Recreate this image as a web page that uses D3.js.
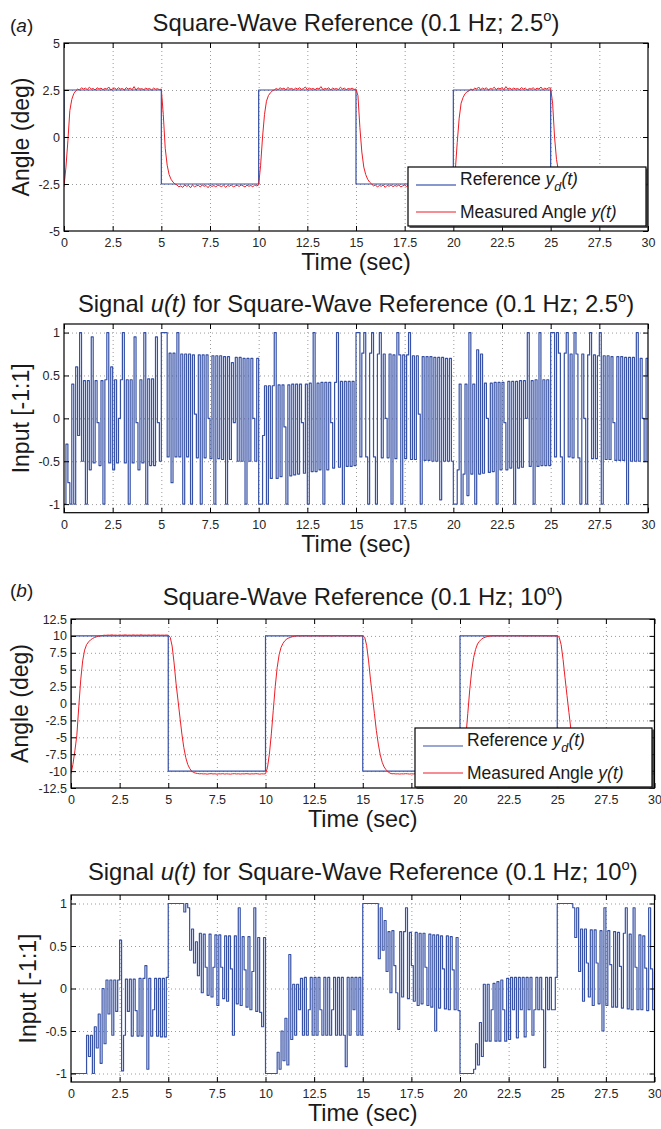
<!DOCTYPE html>
<html><head><meta charset="utf-8">
<script src="https://cdn.jsdelivr.net/npm/d3@7"></script>
<style>
body{margin:0;background:#fff}
svg{display:block}
text{font-family:"Liberation Sans",Arial,Helvetica,sans-serif}
</style>
</head><body>
<svg id="c" width="661" height="1129"></svg>
<script>
// ---------------- DATA ----------------
const timeTicks = [0,2.5,5,7.5,10,12.5,15,17.5,20,22.5,25,27.5,30];
const timeTickLabels = ["0","2.5","5","7.5","10","12.5","15","17.5","20","22.5","25","27.5","30"];
const angleTicksA = [-5,-2.5,0,2.5,5];
const angleTickLabelsA = ["-5","-2.5","0","2.5","5"];
const angleTicksB = [-12.5,-10,-7.5,-5,-2.5,0,2.5,5,7.5,10,12.5];
const angleTickLabelsB = ["-12.5","-10","-7.5","-5","-2.5","0","2.5","5","7.5","10","12.5"];
const inputTicks = [-1,-0.5,0,0.5,1];
const inputTickLabels = ["-1","-0.5","0","0.5","1"];

// square-wave reference (step changes)
const refTimes   = [0,0,5,10,15,20,25,30];
const refLevelsA = [-2.5,2.5,-2.5,2.5,-2.5,2.5,-2.5,2.5];
const refLevelsB = [-10,10,-10,10,-10,10,-10,10];

// sampled signals, one value every 0.1 s from t = 0 to 30 s
const sampleStep = 0.1;
const measuredA = [
-2.65,-1.6,-0.2,1.4,2.0,2.3,2.45,2.55,2.5,2.62,
2.55,2.6,2.52,2.65,2.55,2.58,2.5,2.62,2.55,2.6,
2.52,2.58,2.55,2.66,2.5,2.57,2.6,2.53,2.62,2.55,
2.58,2.5,2.63,2.55,2.6,2.52,2.68,2.5,2.62,2.55,
2.57,2.52,2.6,2.55,2.58,2.5,2.6,2.54,2.57,2.52,
2.55,1.2,-0.6,-1.5,-2.0,-2.25,-2.4,-2.5,-2.55,-2.65,
-2.6,-2.68,-2.55,-2.62,-2.58,-2.7,-2.55,-2.65,-2.6,-2.57,
-2.66,-2.55,-2.62,-2.58,-2.7,-2.56,-2.63,-2.58,-2.66,-2.55,
-2.6,-2.64,-2.55,-2.68,-2.58,-2.62,-2.55,-2.66,-2.6,-2.57,
-2.63,-2.55,-2.6,-2.66,-2.56,-2.62,-2.58,-2.65,-2.55,-2.6,
-2.55,-1.5,0.0,1.2,1.9,2.2,2.35,2.45,2.5,2.58,
2.52,2.62,2.55,2.6,2.5,2.64,2.55,2.58,2.52,2.6,
2.55,2.62,2.53,2.58,2.66,2.52,2.6,2.55,2.58,2.52,
2.6,2.55,2.68,2.52,2.58,2.55,2.62,2.5,2.6,2.55,
2.58,2.52,2.65,2.55,2.6,2.52,2.58,2.55,2.6,2.53,
2.55,2.2,0.5,-0.8,-1.6,-2.0,-2.25,-2.4,-2.5,-2.6,
-2.55,-2.66,-2.58,-2.62,-2.55,-2.68,-2.57,-2.62,-2.55,-2.64,
-2.58,-2.62,-2.55,-2.66,-2.6,-2.56,-2.63,-2.55,-2.6,-2.57,
-2.62,-2.55,-2.6,-2.58,-2.65,-2.55,-2.62,-2.57,-2.6,-2.55,
-2.6,-2.56,-2.62,-2.55,-2.6,-2.58,-2.55,-2.62,-2.57,-2.6,
-2.55,-1.8,-0.3,1.0,1.8,2.1,2.3,2.4,2.45,2.55,
2.5,2.6,2.55,2.66,2.52,2.6,2.55,2.62,2.5,2.58,
2.55,2.65,2.52,2.6,2.56,2.62,2.52,2.68,2.55,2.6,
2.53,2.6,2.55,2.58,2.52,2.63,2.55,2.6,2.5,2.58,
2.55,2.62,2.52,2.6,2.55,2.66,2.52,2.6,2.55,2.62,
2.6,1.8,0.0,-1.2,-1.8,-2.15,-2.35,-2.45,-2.55,-2.6,
-2.62,-2.55,-2.6,-2.58,-2.62,-2.56,-2.6,-2.55,-2.62,-2.58,
-2.6,-2.55,-2.62,-2.57,-2.6,-2.55,-2.6,-2.58,-2.62,-2.55,
-2.6,-2.57,-2.62,-2.55,-2.6,-2.58,-2.55,-2.62,-2.58,-2.6,
-2.55,-2.62,-2.58,-2.6,-2.55,-2.62,-2.58,-2.6,-2.55,-2.58,
-2.55];

const inputA = [
-1,-0.3,-0.75,-1,0.4,-1,0.6,-0.2,1,-0.5,
0.44,-1,0.44,-0.6,0.95,-0.52,0.44,-0.05,-0.55,0.44,
-1,0.45,1,-0.52,0.6,-0.6,0.45,-0.52,0,0.45,
1,-0.52,0.45,-1,0.45,-0.52,0.95,-0.05,-0.6,0.45,
-0.52,1,-1,0.46,-0.55,0.46,-0.55,0.95,-0.05,-0.5,
1,1,1,-0.45,0.76,-0.75,0.76,-0.45,1,-0.45,
0.75,-1,0.75,-0.45,0.75,-1,0.74,0.05,-0.46,0.74,
-1,0.74,-0.46,0.74,0,-0.47,0.73,-1,0.73,-0.47,
0.73,-0.48,0.72,-1,0.72,-0.48,0.65,-0.05,0.71,-0.5,
0.71,-0.5,0.7,-1,0.7,-0.5,0.7,0,-0.5,0.7,
-1,-1,-0.2,0.38,-1,0.38,-0.7,0.38,1,-0.7,
0.39,-0.68,0.39,-0.1,-1,0.39,-0.67,0.4,-0.66,0.4,
-0.65,0.4,-0.05,-0.64,0.4,-1,0.41,-0.62,1,-0.62,
0.41,-0.6,0.42,-1,0.42,-0.6,0.42,-0.05,-0.58,0.42,
1,-0.57,0.43,-1,0.43,-0.56,0.43,-0.56,0.43,-0.55,
1,1,-0.45,0.76,1,-0.45,-1,0.76,1,-0.45,
-1,0.75,1,-0.46,0.75,0,-0.46,0.75,-1,0.74,
-0.47,1,0.74,-1,0.74,-0.47,0.74,1,-0.48,0.73,
-0.48,0.73,0.05,-1,0.72,-0.49,0.72,-0.49,0.72,-0.5,
0.71,-0.5,0.71,-0.95,0.71,-0.5,0.7,-0.5,0.7,-0.5,
-1,-1,-0.6,0.4,-1,-0.65,0.4,-0.9,1,-0.65,
0.4,-1,0.8,-0.65,0.75,-0.64,0.41,0,-0.63,0.41,
-0.62,0.42,-1,0.42,-0.6,0.42,-0.05,-0.6,0.43,-0.58,
0.43,-1,0.43,-0.58,0.44,-0.57,0.44,0,1,-0.56,
0.44,-1,0.45,-0.56,1,-0.55,0.45,-0.55,0.45,-0.55,
1,1,-0.45,1,0.76,-0.45,-1,0.76,1,-0.45,
0.75,-0.46,1,0.75,-0.46,-1,0.75,0,-1,0.74,
1,-0.47,0.74,-0.47,0.73,1,-1,0.73,-0.48,0.73,
-0.48,0.72,-0.05,-0.49,0.72,-0.49,0.72,-0.49,0.71,-1,
0.71,-0.5,0.71,-0.5,1,-0.5,0.7,0,-0.5,0.7,
0.5];

const measuredB = [
-10.4,-9,-7,-4.7,-0.5,3.5,6.3,7.9,8.7,9.1,
9.4,9.6,9.75,9.85,9.95,10.0,10.05,10.1,10.08,10.12,
10.1,10.15,10.1,10.12,10.08,10.14,10.1,10.12,10.15,10.1,
10.12,10.1,10.15,10.1,10.13,10.1,10.16,10.1,10.12,10.1,
10.14,10.1,10.12,10.15,10.1,10.13,10.1,10.12,10.1,10.13,
10.1,9.8,8.5,6,3,0.5,-2,-4.5,-6.5,-8,
-9,-9.6,-10,-10.2,-10.3,-10.35,-10.4,-10.38,-10.42,-10.4,
-10.45,-10.4,-10.38,-10.42,-10.4,-10.45,-10.4,-10.42,-10.38,-10.44,
-10.4,-10.42,-10.45,-10.4,-10.38,-10.42,-10.4,-10.44,-10.4,-10.42,
-10.38,-10.4,-10.44,-10.4,-10.42,-10.38,-10.4,-10.45,-10.4,-10.42,
-10.4,-9.5,-7.5,-4.5,-1,2.5,5.3,7.2,8.3,8.9,
9.3,9.55,9.7,9.8,9.9,9.95,10.0,10.02,9.98,10.02,
10.0,10.03,10.0,9.98,10.02,10.0,10.03,10.0,10.02,9.98,
10.02,10.0,10.03,10.0,9.98,10.02,10.0,10.04,10.0,10.02,
10.0,10.02,9.98,10.02,10.0,10.03,10.0,10.02,10.0,10.02,
10.0,9.8,8.6,6.3,3.5,1,-1.5,-4,-6,-7.6,
-8.7,-9.4,-9.8,-10.1,-10.3,-10.4,-10.38,-10.42,-10.4,-10.44,
-10.4,-10.42,-10.38,-10.4,-10.44,-10.4,-10.42,-10.4,-10.38,-10.42,
-10.4,-10.44,-10.4,-10.42,-10.38,-10.4,-10.42,-10.4,-10.44,-10.4,
-10.42,-10.38,-10.4,-10.42,-10.4,-10.44,-10.4,-10.42,-10.38,-10.4,
-10.4,-9.6,-7.8,-5,-1.5,2,4.8,6.8,8,8.8,
9.2,9.5,9.7,9.8,9.9,9.95,10.0,10.02,10.0,10.03,
10.0,10.02,10.0,10.03,9.98,10.02,10.0,10.03,10.0,10.02,
10.0,10.03,10.0,10.02,9.98,10.02,10.0,10.03,10.0,10.02,
10.0,10.02,10.0,10.03,10.0,10.02,9.98,10.02,10.0,10.02,
10.0,9.8,8.7,6.5,3.8,1.2,-1.3,-3.8,-6,-7.6,
-8.7,-9.4,-9.8,-10.1,-10.3,-10.4,-10.4,-10.42,-10.4,-10.4,
-10.42,-10.4,-10.4,-10.42,-10.4,-10.4,-10.42,-10.4,-10.4,-10.42,
-10.4,-10.42,-10.4,-10.4,-10.42,-10.4,-10.4,-10.42,-10.4,-10.4,
-10.42,-10.4,-10.4,-10.42,-10.4,-10.4,-10.42,-10.4,-10.4,-10.42,
-10.4];

const inputB = [
-1,-1,-1,-1,-1,-1,-1,-1,-0.55,-0.8,
-0.55,-1,-0.45,-0.7,-0.3,-0.88,0,-0.65,0.1,-0.3,
0.1,-0.55,0.1,-0.27,0.1,0.57,-0.97,-0.55,0.11,-0.27,
0.11,-0.56,0.11,-0.26,-0.56,0.12,-0.56,0.12,0.27,-0.95,
0.12,-0.56,-0.25,0.12,-0.56,0.12,-0.57,0.12,-0.57,0.13,
1,1,1,1,1,1,1,1,0.9,1,
0.95,0.45,0.7,0.3,0.55,0.15,0.65,-0.05,0.64,0.25,
-0.08,0.64,-0.1,0.25,0.63,-0.2,0.63,0.25,-0.12,0.62,
-0.15,0.62,0.23,-0.55,0.62,-0.18,0.95,-0.2,0.61,0.22,
-0.22,0.61,-0.25,0.2,0.95,-0.27,0.6,-0.28,-0.45,0.6,
-1,-1,-1,-1,-1,-1,-0.75,-0.95,-0.5,-0.85,
-0.35,-0.9,0.4,-0.6,0.05,-0.55,0.05,-0.25,0.12,-0.55,
0.13,-0.55,-0.25,0.13,-0.55,0.13,-0.55,0.13,-0.25,-0.55,
0.13,-0.55,0.13,-0.55,-0.25,0.13,-0.55,0.13,-0.55,0.13,
-0.55,-0.92,0.13,-0.55,0.13,-0.25,0.13,-0.55,0.13,-0.55,
1,1,1,1,1,1,1,1,0.35,0.95,
0.45,0.8,0.2,0.67,-0.05,0.68,0.27,-0.05,-0.48,0.67,
-0.1,0.67,0.95,-0.12,0.66,0.27,-0.15,0.66,-0.2,0.65,
-0.18,0.65,0.25,-0.2,0.64,-0.22,0.63,-0.5,0.63,-0.23,
0.62,0.23,-0.24,0.62,-0.25,0.61,0.22,-0.25,0.6,-0.26,
-1,-1,-1,-1,-1,-1,-1,-0.95,-0.65,-0.9,
-0.4,-0.8,0.05,-0.62,0.05,-0.62,-0.25,0.06,-0.62,0.08,
-0.62,0.1,-0.25,-0.62,0.12,-0.6,0.13,-0.25,0.13,-0.58,
0.13,-0.25,0.13,-0.57,0.13,-0.25,0.13,-0.55,-0.25,0.13,
-0.25,0.13,-0.25,-0.93,0.13,-0.25,0.13,-0.25,-0.25,0.13,
1,1,1,1,1,1,1,1,0.95,0.6,
0.95,0.2,0.7,-0.15,0.7,0.3,-0.1,0.69,-0.2,0.69,
0.3,-0.18,0.68,-0.5,0.95,-0.2,0.68,0.28,-0.22,0.67,
-0.22,0.66,0.26,-0.23,0.65,0.95,-0.24,0.64,-0.25,0.95,
0.25,-0.25,0.63,-0.25,0.62,0.24,-0.26,0.95,0.23,-0.25,
0.2];

// ---------------- DRAWING ----------------
const svg = d3.select("#c");
const BLUE = "#3651a6", RED = "#ee1d26";
const toPairs = vals => vals.map((v,i) => [i*sampleStep, v]);
const refPairs = levels => refTimes.map((t,i) => [t, levels[i]]);

function rich(textSel, parts, size){
  let shift = 0;
  parts.forEach(p => {
    const want = p.sup ? -size*0.42 : (p.sub ? size*0.32 : 0);
    const ts = textSel.append("tspan").text(p.t);
    if (p.i) ts.attr("font-style","italic");
    if (p.sup) ts.attr("font-size", size*0.62);
    if (p.sub) ts.attr("font-size", size*0.72);
    if (want !== shift) ts.attr("dy", want - shift);
    shift = want;
  });
}

function drawPanel(p){
  const x = d3.scaleLinear().domain([0,30]).range([p.x0,p.x1]);
  const y = d3.scaleLinear().domain(p.ydom).range([p.y1,p.y0]);
  const g = svg.append("g");
  const cid = "clip" + p.id;
  svg.append("clipPath").attr("id",cid).append("rect")
    .attr("x",p.x0).attr("y",p.y0).attr("width",p.x1-p.x0).attr("height",p.y1-p.y0);

  // grid
  g.append("g").selectAll("line").data(timeTicks.filter(t => t>0 && t<30)).join("line")
    .attr("x1",d=>x(d)+0.5).attr("x2",d=>x(d)+0.5).attr("y1",p.y0).attr("y2",p.y1)
    .attr("stroke","#9a9a9a").attr("stroke-width",1).attr("stroke-dasharray","1,3");
  g.append("g").selectAll("line").data(p.yticks.filter(v => v>p.ydom[0] && v<p.ydom[1])).join("line")
    .attr("y1",d=>y(d)+0.5).attr("y2",d=>y(d)+0.5).attr("x1",p.x0).attr("x2",p.x1)
    .attr("stroke","#9a9a9a").attr("stroke-width",1).attr("stroke-dasharray","1,3");

  // series
  p.series.forEach(s => {
    g.append("path").datum(s.data).attr("clip-path",`url(#${cid})`)
      .attr("fill","none").attr("stroke",s.color).attr("stroke-width",s.width)
      .attr("stroke-linejoin","round")
      .attr("d", d3.line().x(d=>x(d[0])).y(d=>y(d[1])).curve(s.curve)(s.data));
  });

  // axes (inward ticks on all four sides)
  const styleAxis = sel => {
    sel.select(".domain").remove();
    sel.selectAll(".tick line").attr("stroke","#000");
    sel.selectAll("text").attr("font-family","'Liberation Sans',Arial,sans-serif")
      .attr("font-size",12.5).attr("fill","#262626");
  };
  g.append("g").attr("transform",`translate(0,${p.y1})`)
    .call(d3.axisBottom(x).tickValues(timeTicks).tickFormat((d,i)=>timeTickLabels[i])
      .tickSizeInner(-5).tickSizeOuter(0).tickPadding(7)).call(styleAxis);
  g.append("g").attr("transform",`translate(0,${p.y0})`)
    .call(d3.axisTop(x).tickValues(timeTicks).tickFormat("").tickSizeInner(-5).tickSizeOuter(0)).call(styleAxis);
  g.append("g").attr("transform",`translate(${p.x0},0)`)
    .call(d3.axisLeft(y).tickValues(p.yticks).tickFormat((d,i)=>p.ylabels[i])
      .tickSizeInner(-5).tickSizeOuter(0).tickPadding(4)).call(styleAxis);
  g.append("g").attr("transform",`translate(${p.x1},0)`)
    .call(d3.axisRight(y).tickValues(p.yticks).tickFormat("").tickSizeInner(-5).tickSizeOuter(0)).call(styleAxis);

  // frame
  g.append("rect").attr("x",p.x0).attr("y",p.y0).attr("width",p.x1-p.x0).attr("height",p.y1-p.y0)
    .attr("fill","none").attr("stroke","#000").attr("stroke-width",1.2);

  // title and labels
  const tt = g.append("text").attr("x",(p.x0+p.x1)/2).attr("y",p.titleY)
    .attr("text-anchor","middle").attr("font-size",23.8).attr("fill","#1a1a1a");
  rich(tt, p.title, 23.8);
  g.append("text").attr("x",(p.x0+p.x1)/2).attr("y",p.y1+39).attr("text-anchor","middle")
    .attr("font-size",23.4).attr("fill","#1a1a1a").text("Time (sec)");
  g.append("text").attr("transform",`translate(${p.ylabX},${(p.y0+p.y1)/2}) rotate(-90)`)
    .attr("text-anchor","middle").attr("dy","0.35em").attr("font-size",23).attr("fill","#1a1a1a").text(p.ylab);

  if (p.tag){
    const t = g.append("text").attr("x",10).attr("y",p.tagY).attr("font-size",19).attr("fill","#1a1a1a");
    rich(t, [{t:"("},{t:p.tag,i:1},{t:")"}], 19);
  }

  // legend
  if (p.legend){
    const L = p.legend;
    const lg = g.append("g");
    lg.append("rect").attr("x",L.x).attr("y",L.y).attr("width",L.w).attr("height",L.h)
      .attr("fill","#fff").attr("stroke","#000").attr("stroke-width",1.2);
    lg.append("path").attr("d",`M${L.x+1.5},${L.y+L.h+1}H${L.x+L.w+1}V${L.y+1.5}`)
      .attr("fill","none").attr("stroke","#222").attr("stroke-width",1.6);
    const rows = [
      {color:L.refColor, w:L.refWidth, ly:L.y+18, ty:L.y+18, parts:[{t:"Reference "},{t:"y",i:1},{t:"d",i:1,sub:1},{t:"(t)",i:1}]},
      {color:RED, w:1.2, ly:L.y+45, ty:L.y+51, parts:[{t:"Measured Angle "},{t:"y(t)",i:1}]}
    ];
    rows.forEach(r => {
      lg.append("line").attr("x1",L.x+8).attr("x2",L.x+48).attr("y1",r.ly).attr("y2",r.ly)
        .attr("stroke",r.color).attr("stroke-width",r.w);
      const t = lg.append("text").attr("x",L.x+52).attr("y",r.ty).attr("font-size",17.5).attr("fill","#1a1a1a");
      rich(t, r.parts, 17.5);
    });
  }
}

const lin = d3.curveLinear, step = d3.curveStepAfter;

drawPanel({id:"a", x0:64, x1:648, y0:43, y1:231, ydom:[-5,5],
  yticks:angleTicksA, ylabels:angleTickLabelsA, ylab:"Angle (deg)", ylabX:21, titleY:31,
  tag:"a", tagY:32,
  title:[{t:"Square-Wave Reference (0.1 Hz; 2.5"},{t:"o",sup:1},{t:")"}],
  series:[{data:refPairs(refLevelsA), color:BLUE, width:1.2, curve:step},
          {data:toPairs(measuredA), color:RED, width:1, curve:lin}],
  legend:{x:408, y:167, w:238, h:59, refColor:"#8797d0", refWidth:2}});

drawPanel({id:"a2", x0:64, x1:648, y0:324, y1:512.7, ydom:[-1.1,1.1],
  yticks:inputTicks, ylabels:inputTickLabels, ylab:"Input [-1:1]", ylabX:21, titleY:312,
  title:[{t:"Signal "},{t:"u(t)",i:1},{t:" for Square-Wave Reference (0.1 Hz; 2.5"},{t:"o",sup:1},{t:")"}],
  series:[{data:toPairs(inputA), color:BLUE, width:1.2, curve:step}]});

drawPanel({id:"b", x0:71, x1:654.5, y0:619, y1:788, ydom:[-12.5,12.5],
  yticks:angleTicksB, ylabels:angleTickLabelsB, ylab:"Angle (deg)", ylabX:20, titleY:605,
  tag:"b", tagY:597,
  title:[{t:"Square-Wave Reference (0.1 Hz; 10"},{t:"o",sup:1},{t:")"}],
  series:[{data:refPairs(refLevelsB), color:BLUE, width:1.2, curve:step},
          {data:toPairs(measuredB), color:RED, width:1, curve:lin}],
  legend:{x:415, y:728, w:237, h:59, refColor:BLUE, refWidth:1.2}});

drawPanel({id:"b2", x0:71, x1:654.5, y0:895, y1:1082, ydom:[-1.1,1.1],
  yticks:inputTicks, ylabels:inputTickLabels, ylab:"Input [-1:1]", ylabX:28, titleY:880,
  title:[{t:"Signal "},{t:"u(t)",i:1},{t:" for Square-Wave Reference (0.1 Hz; 10"},{t:"o",sup:1},{t:")"}],
  series:[{data:toPairs(inputB), color:BLUE, width:1.2, curve:step}]});
</script>
</body></html>
